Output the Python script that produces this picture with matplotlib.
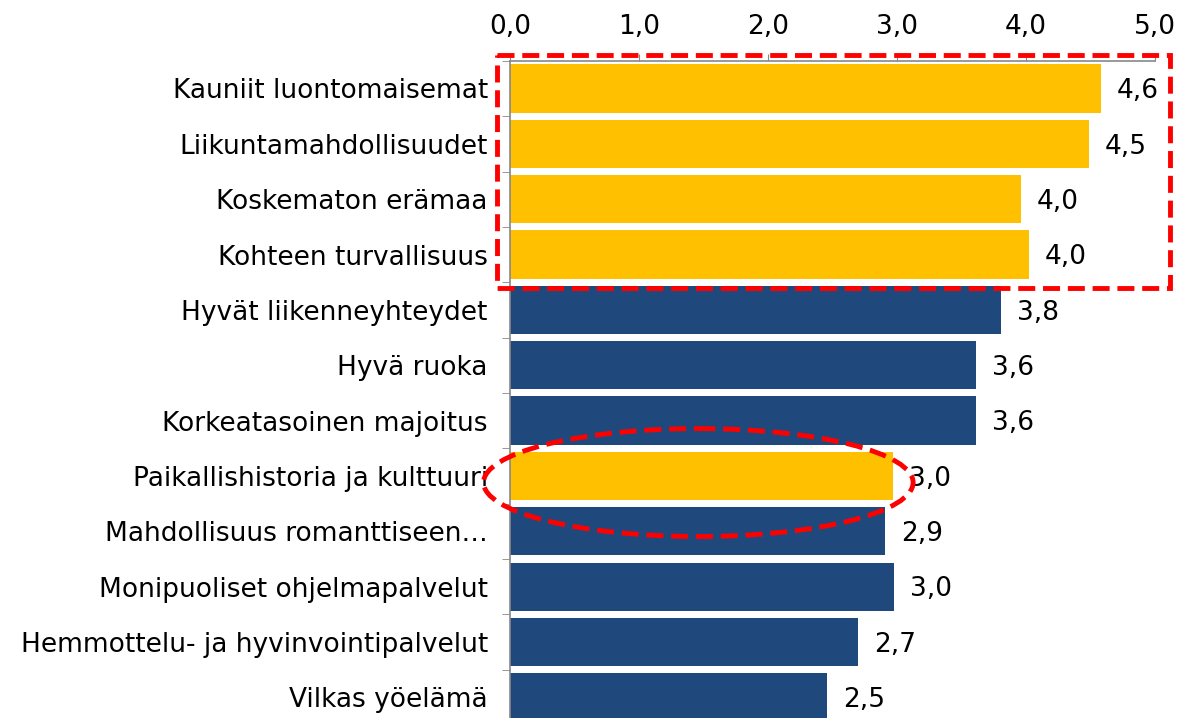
import matplotlib.pyplot as plt
from matplotlib.patches import Rectangle, Ellipse
from matplotlib.ticker import FuncFormatter, FixedLocator

# Data
categories = [
    "Kauniit luontomaisemat",
    "Liikuntamahdollisuudet",
    "Koskematon erämaa",
    "Kohteen turvallisuus",
    "Hyvät liikenneyhteydet",
    "Hyvä ruoka",
    "Korkeatasoinen majoitus",
    "Paikallishistoria ja kulttuuri",
    "Mahdollisuus romanttiseen…",
    "Monipuoliset ohjelmapalvelut",
    "Hemmottelu- ja hyvinvointipalvelut",
    "Vilkas yöelämä",
]
values = [4.58, 4.49, 3.96, 4.02, 3.81, 3.61, 3.61, 2.97, 2.91, 2.98, 2.70, 2.46]
highlighted = [True, True, True, True, False, False, False, True, False, False, False, False]

YELLOW = "#FFC000"
BLUE = "#1F497D"
RED = "#FF0000"
FS = 19

plt.rcParams["font.family"] = ["DejaVu Sans"]

fig = plt.figure(figsize=(11.77, 7.18), dpi=100)
ax = fig.add_axes([0.4333, -0.0097, 0.548, 0.925])

y = list(range(len(categories)))
colors = [YELLOW if h else BLUE for h in highlighted]
ax.barh(y, values, height=0.87, color=colors, zorder=2)

for yi, v in zip(y, values):
    ax.annotate(f"{v:.1f}".replace(".", ","), xy=(v, yi), xytext=(11.5, -2),
                textcoords="offset points", ha="left", va="center", fontsize=FS)

ax.set_xlim(0, 5)
ax.set_ylim(len(categories) - 0.5, -0.5)

ax.xaxis.tick_top()
ax.xaxis.set_major_locator(FixedLocator([0, 1, 2, 3, 4, 5]))
ax.xaxis.set_major_formatter(FuncFormatter(lambda x, p: f"{x:.1f}".replace(".", ",")))
ax.tick_params(axis="x", labelsize=FS, length=5, color="#888888", pad=10)

ax.set_yticks(y)
ax.set_yticklabels(categories, fontsize=FS)
ax.yaxis.set_minor_locator(FixedLocator([i - 0.5 for i in range(len(categories) + 1)]))
ax.tick_params(axis="y", which="major", length=0, pad=16)
ax.tick_params(axis="y", which="minor", length=6, color="#888888")

for side in ["right", "bottom"]:
    ax.spines[side].set_visible(False)
for side in ["left", "top"]:
    ax.spines[side].set_color("#888888")
    ax.spines[side].set_linewidth(1.2)

# Red dashed highlight shapes
rect = Rectangle((-0.1, -0.61), 5.22, 4.21, fill=False, edgecolor=RED,
                 linewidth=3.5, linestyle=(0, (3.5, 1.6)), clip_on=False, zorder=3)
ax.add_patch(rect)
ell = Ellipse((1.46, 7.12), 3.33, 1.95, fill=False, edgecolor=RED,
              linewidth=3.5, linestyle=(0, (3.5, 1.6)), clip_on=False, zorder=3)
ax.add_patch(ell)

fig.savefig("out.png", dpi=100)
